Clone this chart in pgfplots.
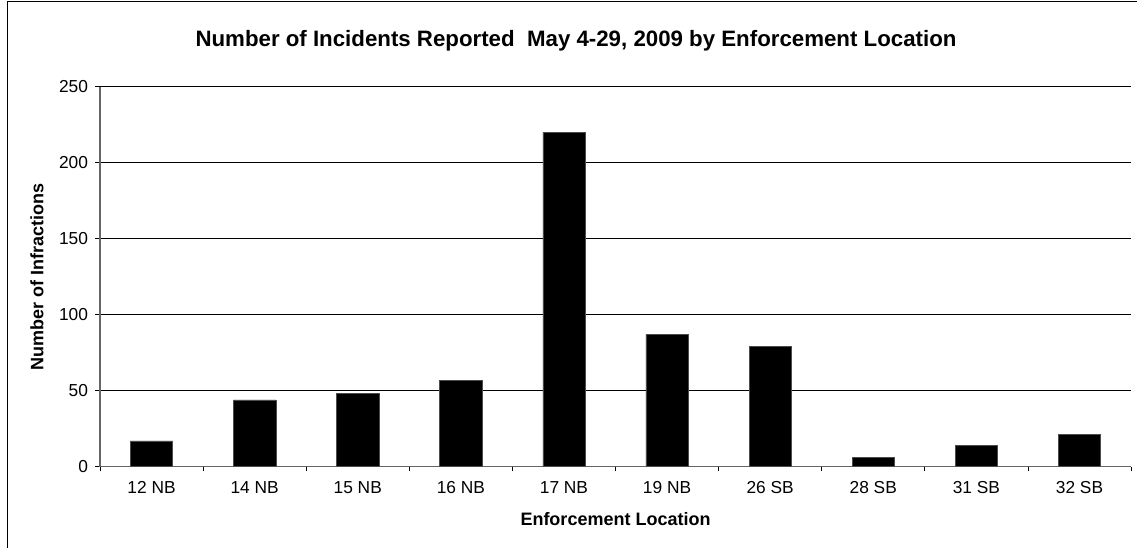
\documentclass[border=0pt]{standalone}
\usepackage{pgfplots}
\pgfplotsset{compat=1.18}
\usepackage{fontspec}
\setmainfont{Liberation Sans}
\begin{document}
\begin{tikzpicture}
\path[use as bounding box] (0,0) rectangle (852.75pt,411pt);
\draw[line width=0.9pt] (5.4pt,0) -- (5.4pt,409.6pt) -- (852.75pt,409.6pt);
\begin{axis}[
  at={(75pt,61pt)}, anchor=south west,
  width=773.25pt, height=285pt, scale only axis,
  xmin=-0.5, xmax=9.5, ymin=0, ymax=250,
  axis x line=bottom, axis y line=left,
  axis line style={draw=gray!80!black, line width=0.9pt, -},
  xtick={0,...,9},
  xticklabels={12 NB,14 NB,15 NB,16 NB,17 NB,19 NB,26 SB,28 SB,31 SB,32 SB},
  major x tick style={draw=none},
  minor xtick={-0.5,0.5,...,9.5},
  minor tick length=3.5pt,
  minor x tick style={draw=black, line width=0.6pt},
  ytick={0,50,...,250},
  major tick length=3.5pt,
  tick align=outside,
  y tick style={draw=black, line width=0.6pt},
  ymajorgrids, grid style={draw=black, line width=0.7pt},
  /pgf/number format/assume math mode=true,
  tick label style={font=\fontsize{13}{15}\selectfont},
  xticklabel style={yshift=-4pt},
  yticklabel style={xshift=-2pt},
  xlabel={Enforcement Location},
  ylabel={Number of Infractions},
  label style={font=\fontsize{13.5}{16}\selectfont\bfseries},
  xlabel style={at={(axis description cs:0.5,0)}, anchor=center, yshift=-39.6pt},
  ylabel style={at={(axis description cs:-0.0612,0.5)}, anchor=center},
  title={Number of Incidents Reported~ May 4-29, 2009 by Enforcement Location},
  title style={font=\fontsize{16.7}{19}\selectfont\bfseries, at={(axis description cs:0.4617,1)}, anchor=center, yshift=28.3pt},
  ybar, bar width=0.41,
  clip=false,
]
\addplot[fill=black, draw=gray!60!black, line width=0.4pt] coordinates {
 (0,17) (1,44) (2,48) (3,57) (4,220) (5,87) (6,79) (7,6) (8,14) (9,21)};
\end{axis}
\end{tikzpicture}
\end{document}
